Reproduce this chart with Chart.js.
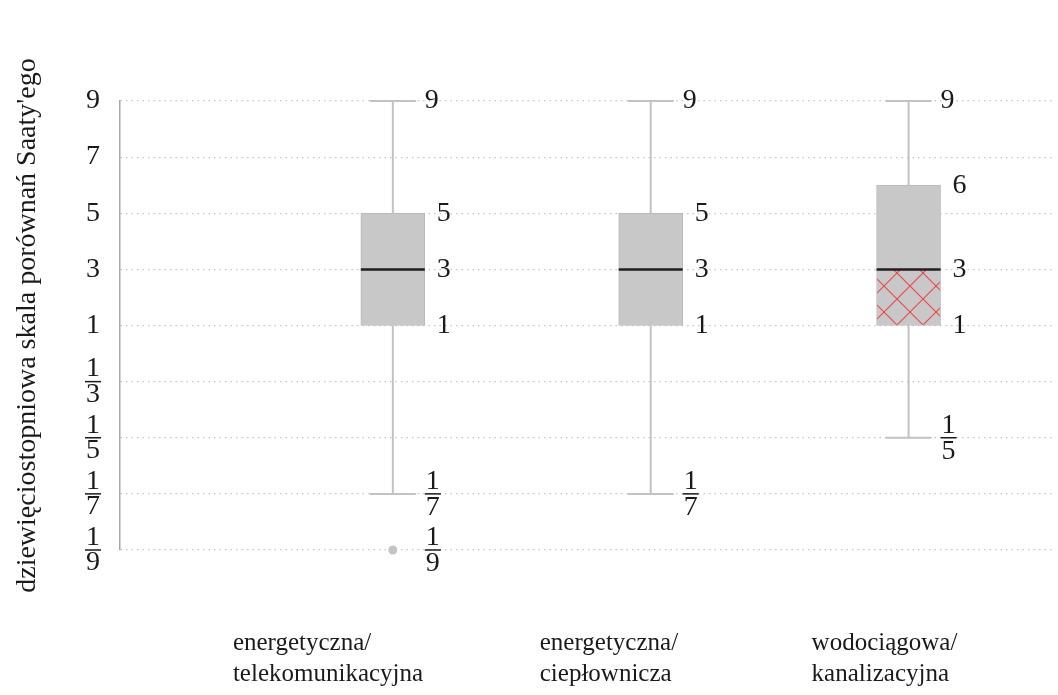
<!DOCTYPE html>
<html>
<head>
<meta charset="utf-8">
<script src="https://cdn.jsdelivr.net/npm/chart.js@4.4.0/dist/chart.umd.min.js"></script>
<style>
html,body{margin:0;padding:0;background:#fff;}
#wrap{width:1058px;height:695px;}
</style>
</head>
<body>
<div id="wrap"><canvas id="pudelka"></canvas></div>
<script>
// dane
const kategorie = [['energetyczna/','telekomunikacyjna'],['energetyczna/','ciepłownicza'],['wodociągowa/','kanalizacyjna']];
const skala = [1/9, 1/7, 1/5, 1/3, 1, 3, 5, 7, 9];
const skala_opis = [['1','9'],['1','7'],['1','5'],['1','3'],'1','3','5','7','9'];
const minimum = [1/7, 1/7, 1/5];
const kwartyl1 = [1, 1, 1];
const mediana = [3, 3, 3];
const kwartyl3 = [5, 5, 6];
const maksimum = [9, 9, 9];
const odstajace = [[1/9], [], []];
const kreskowanie = [false, false, true];

const czcionka = 'Liberation Serif';
const szary = '#c8c8c8';
const przesuniecie_opisow = [-160, -111, -97]; // px wzgledem srodka pudelka

// pozycja na skali Saaty'ego (rownomierne odstepy)
function poz(v){
    return v >= 1 ? 4 + (v - 1) / 2 : 4 - (1 / v - 1) / 2;
}

function wzor_kreskowania(){
    const c = document.createElement('canvas');
    c.width = 26; c.height = 26;
    const g = c.getContext('2d');
    g.fillStyle = szary;
    g.fillRect(0, 0, 26, 26);
    g.strokeStyle = '#e8474b';
    g.lineWidth = 1.1;
    g.beginPath();
    g.moveTo(0, 26); g.lineTo(26, 0);
    g.moveTo(-13, 13); g.lineTo(13, -13);
    g.moveTo(13, 39); g.lineTo(39, 13);
    g.moveTo(0, 0); g.lineTo(26, 26);
    g.moveTo(-13, 13); g.lineTo(13, 39);
    g.moveTo(13, -13); g.lineTo(39, 13);
    g.stroke();
    return g.createPattern(c, 'repeat');
}
const wzor = wzor_kreskowania();

function rysuj_opis(ctx, v, x, y){
    if (v >= 1) {
        ctx.textAlign = 'left';
        ctx.fillText(String(v), x, y);
        return;
    }
    const mian = String(Math.round(1 / v));
    const w = Math.max(ctx.measureText('1').width, ctx.measureText(mian).width) + 2;
    ctx.textAlign = 'center';
    ctx.fillText('1', x + w / 2, y - 12);
    ctx.fillText(mian, x + w / 2, y + 14);
    ctx.fillRect(x, y - 0.75, w, 1.5);
}

const wasy = {
    id: 'wasy',
    beforeDatasetsDraw(chart){
        const ctx = chart.ctx, sx = chart.scales.x, sy = chart.scales.y;
        ctx.save();
        ctx.strokeStyle = '#c2c2c2';
        ctx.lineWidth = 2;
        kategorie.forEach(function(k, i){
            const x = sx.getPixelForValue(i + 1);
            ctx.beginPath();
            ctx.moveTo(x, sy.getPixelForValue(poz(maksimum[i])));
            ctx.lineTo(x, sy.getPixelForValue(poz(kwartyl3[i])));
            ctx.moveTo(x, sy.getPixelForValue(poz(kwartyl1[i])));
            ctx.lineTo(x, sy.getPixelForValue(poz(minimum[i])));
            [maksimum[i], minimum[i]].forEach(function(v){
                const y = sy.getPixelForValue(poz(v));
                ctx.moveTo(x - 23, y);
                ctx.lineTo(x + 23, y);
            });
            ctx.stroke();
        });
        ctx.restore();
    },
    afterDatasetsDraw(chart){
        const ctx = chart.ctx, sx = chart.scales.x, sy = chart.scales.y;
        ctx.save();
        // mediany
        ctx.strokeStyle = '#1f1f1f';
        ctx.lineWidth = 2.5;
        kategorie.forEach(function(k, i){
            const x = sx.getPixelForValue(i + 1);
            const y = sy.getPixelForValue(poz(mediana[i]));
            ctx.beginPath();
            ctx.moveTo(x - 32, y);
            ctx.lineTo(x + 32, y);
            ctx.stroke();
        });
        // opisy wartosci
        ctx.fillStyle = '#1a1a1a';
        ctx.font = '28px "' + czcionka + '"';
        ctx.textBaseline = 'middle';
        kategorie.forEach(function(k, i){
            const x = sx.getPixelForValue(i + 1);
            [kwartyl1[i], mediana[i], kwartyl3[i]].forEach(function(v){
                rysuj_opis(ctx, v, x + 44, sy.getPixelForValue(poz(v)));
            });
            [maksimum[i], minimum[i]].concat(odstajace[i]).forEach(function(v){
                rysuj_opis(ctx, v, x + 32, sy.getPixelForValue(poz(v)));
            });
        });
        ctx.restore();
    },
    afterDraw(chart){
        // kreski ulamkow przy osi y
        const ctx = chart.ctx, sy = chart.scales.y;
        ctx.save();
        ctx.fillStyle = '#1a1a1a';
        ctx.font = '28px "' + czcionka + '"';
        sy.ticks.forEach(function(t, i){
            const op = skala_opis[i];
            if (!Array.isArray(op)) return;
            const w = Math.max(ctx.measureText(op[0]).width, ctx.measureText(op[1]).width) + 2;
            const y = sy.getPixelForValue(t.value);
            ctx.fillRect(sy.right - 20 - w + 1, y - 0.75, w, 1.5);
        });
        ctx.restore();
    }
};

const ctx = document.getElementById('pudelka').getContext('2d');
new Chart(ctx, {
    type: 'bar',
    data: {
        datasets: [{
            label: 'dolna czesc',
            data: kategorie.map((k, i) => ({x: i + 1, y: [poz(kwartyl1[i]), poz(mediana[i])]})),
            backgroundColor: kreskowanie.map(h => h ? wzor : szary),
            borderColor: '#bababa',
            borderWidth: 1,
            borderSkipped: false,
            barThickness: 64,
            grouped: false
        }, {
            label: 'gorna czesc',
            data: kategorie.map((k, i) => ({x: i + 1, y: [poz(mediana[i]), poz(kwartyl3[i])]})),
            backgroundColor: szary,
            borderColor: '#bababa',
            borderWidth: 1,
            borderSkipped: false,
            barThickness: 64,
            grouped: false
        }, {
            type: 'scatter',
            label: 'odstajace',
            data: odstajace.flatMap((lista, i) => lista.map(v => ({x: i + 1, y: poz(v)}))),
            backgroundColor: '#c4c4c4',
            borderWidth: 0,
            pointRadius: 4.5,
            clip: false
        }]
    },
    options: {
        responsive: true,
        maintainAspectRatio: false,
        animation: false,
        layout: {padding: {top: 101, right: 0, left: 0, bottom: 0}},
        plugins: {
            legend: {display: false},
            tooltip: {enabled: false}
        },
        scales: {
            x: {
                type: 'linear',
                offset: false,
                min: -0.058,
                max: 3.562,
                afterBuildTicks: function(scale){
                    scale.ticks = kategorie.map((k, i) => ({value: i + 1 + przesuniecie_opisow[i] / 258}));
                },
                afterFit: function(scale){ scale.height = 145; },
                grid: {display: false},
                border: {display: false},
                ticks: {
                    align: 'start',
                    maxRotation: 0,
                    autoSkip: false,
                    padding: 70,
                    color: '#1a1a1a',
                    font: {family: czcionka, size: 25, lineHeight: 1.25},
                    callback: (v, i) => kategorie[i]
                }
            },
            y: {
                min: 0,
                max: 8,
                afterBuildTicks: function(scale){
                    scale.ticks = skala.map(v => ({value: poz(v)}));
                },
                afterFit: function(scale){ scale.width = 120; },
                grid: {color: '#c6c6c6', lineWidth: 1.2, drawTicks: false},
                border: {display: true, color: '#a8a8a8', width: 1.5, dash: [1.5, 4]},
                ticks: {
                    padding: 20,
                    color: '#1a1a1a',
                    font: {family: czcionka, size: 28, lineHeight: 0.9},
                    callback: (v, i) => skala_opis[i]
                },
                title: {
                    display: true,
                    text: "dziewięciostopniowa skala porównań Saaty'ego",
                    color: '#1a1a1a',
                    font: {family: czcionka, size: 28},
                    padding: {top: 11, bottom: 0}
                }
            }
        }
    },
    plugins: [wasy]
});
</script>
</body>
</html>
